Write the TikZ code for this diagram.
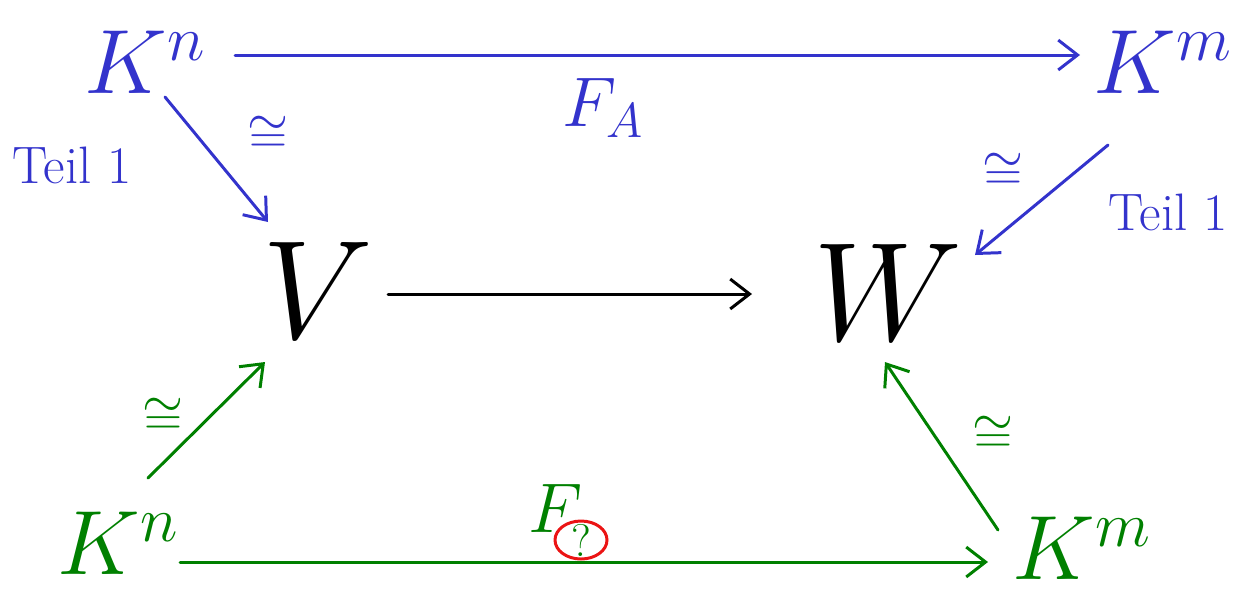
\RequirePackage{fix-cm}
\documentclass[tikz,border=0pt]{standalone}
\usetikzlibrary{arrows.meta}
\definecolor{hblue}{RGB}{51,51,204}
\definecolor{hgreen}{RGB}{0,128,0}
\definecolor{hred}{RGB}{235,20,20}
\begin{document}
\begin{tikzpicture}[x=0.02cm,y=-0.02cm,
  arr/.style={line width=1.7pt,line cap=round,-{Straight Barb[length=11pt,width=17pt]}},
  big/.style={inner sep=0pt,font=\fontsize{52}{56}\selectfont},
  huge/.style={inner sep=0pt,font=\fontsize{80}{80}\selectfont},
  lbl/.style={inner sep=0pt,font=\fontsize{30}{32}\selectfont},
  fl/.style={inner sep=0pt,font=\fontsize{40}{40}\selectfont},
  iso/.style={inner sep=0pt,font=\fontsize{30}{30}\selectfont}]
\useasboundingbox (0,0) rectangle (1253,600);
% nodes
\node[big,hblue] (Kn1) at (145,62) {$K^{n}$};
\node[big,hblue] (Km1) at (1163,62) {$K^{m}$};
\node[huge] (V) at (318,290) {$V$};
\node[huge] (W) at (888,292) {$W$};
\node[big,hgreen] (Kn2) at (118,543) {$K^{n}$};
\node[big,hgreen] (Km2) at (1082,548) {$K^{m}$};
% labels
\node[fl,hblue] (FA) at (603,108) {$F_{A}$};
\node[iso,hblue] (iso1) at (268,135) {$\cong$};
\node[lbl,hblue] (t1) at (72,165) {Teil 1};
\node[iso,hblue] (iso2) at (1003,172) {$\cong$};
\node[lbl,hblue] (t2) at (1168,212) {Teil 1};
\node[iso,hgreen] (iso3) at (163,417) {$\cong$};
\node[iso,hgreen] (iso4) at (993,435) {$\cong$};
\node[fl,hgreen] (F2) at (556,508) {$F$};
\node[inner sep=0pt,hgreen,font=\fontsize{26}{26}\selectfont] (q) at (581,540) {?};
\draw[hred,line width=1.7pt] (q) ellipse [x radius=26,y radius=19];
% connector end points
\coordinate (a1) at (235,55);   \coordinate (a2) at (1080,55);
\coordinate (b1) at (165,97);   \coordinate (b2) at (268,222);
\coordinate (c1) at (1108,145); \coordinate (c2) at (975,255);
\coordinate (d1) at (388,294);  \coordinate (d2) at (752,294);
\coordinate (e1) at (148,478);  \coordinate (e2) at (265,362);
\coordinate (f1) at (180,562);  \coordinate (f2) at (988,562);
\coordinate (g1) at (998,530);  \coordinate (g2) at (885,362);
% connectors
\draw[arr,hblue] (a1) -- (a2);
\draw[arr,hblue] (b1) -- (b2);
\draw[arr,hblue] (c1) -- (c2);
\draw[arr,black] (d1) -- (d2);
\draw[arr,hgreen] (e1) -- (e2);
\draw[arr,hgreen] (f1) -- (f2);
\draw[arr,hgreen] (g1) -- (g2);
\end{tikzpicture}
\end{document}
